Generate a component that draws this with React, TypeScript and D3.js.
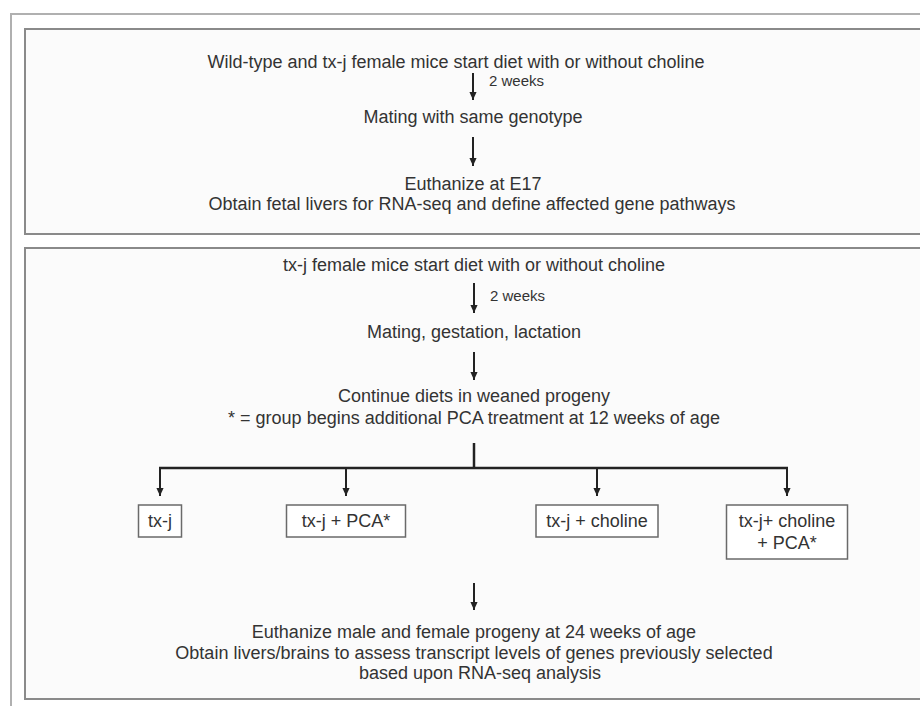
import { useEffect, useRef } from "react";
import * as d3 from "d3";

// 상단 패널 텍스트
const topSteps = [
  "Wild-type and tx-j female mice start diet with or without choline",
  "Mating with same genotype",
  "Euthanize at E17",
  "Obtain fetal livers for RNA-seq and define affected gene pathways",
];
// 하단 패널 텍스트
const bottomSteps = [
  "tx-j female mice start diet with or without choline",
  "Mating, gestation, lactation",
  "Continue diets in weaned progeny",
  "* = group begins additional PCA treatment at 12 weeks of age",
];
const groupLabels = [["tx-j"], ["tx-j + PCA*"], ["tx-j + choline"], ["tx-j+ choline", "+ PCA*"]];
const finalSteps = [
  "Euthanize male and female progeny at 24 weeks of age",
  "Obtain livers/brains to assess transcript levels of genes previously selected",
  "based upon RNA-seq analysis",
];
const intervalLabel = "2 weeks";

const W = 920;
const H = 706;
const FONT = "'Liberation Sans', Arial, sans-serif";

export default function App() {
  const svgRef = useRef<SVGSVGElement | null>(null);

  useEffect(() => {
    const svg = d3.select(svgRef.current);
    svg.selectAll("*").remove();

    const cx = 474; // 흐름 중심선

    // 화살촉 마커
    svg.append("defs")
      .append("marker")
      .attr("id", "head")
      .attr("viewBox", "0 0 8 9")
      .attr("refX", 9)
      .attr("refY", 4)
      .attr("markerWidth", 9)
      .attr("markerHeight", 8)
      .attr("markerUnits", "userSpaceOnUse")
      .attr("orient", "auto")
      .append("path")
      .attr("d", "M0,0 L9,4 L0,8 Z")
      .attr("fill", "#222");

    // 바깥 프레임
    svg.append("path")
      .attr("d", `M11,${H} L11,14 L${W},14`)
      .attr("fill", "none")
      .attr("stroke", "#b0b0b0")
      .attr("stroke-width", 2);

    // 패널 박스
    const panel = (y0: number, y1: number) =>
      svg.append("rect")
        .attr("x", 25)
        .attr("y", y0)
        .attr("width", W)
        .attr("height", y1 - y0)
        .attr("fill", "#fbfbfb")
        .attr("stroke", "#8a8a8a")
        .attr("stroke-width", 2);
    panel(29, 234);
    panel(248, 699);

    const text = (t: string, x: number, y: number, size = 18, anchor = "middle") =>
      svg.append("text")
        .attr("x", x)
        .attr("y", y)
        .attr("text-anchor", anchor)
        .attr("dominant-baseline", "central")
        .style("font-family", FONT)
        .style("font-size", `${size}px`)
        .attr("fill", "#333")
        .text(t);

    const arrow = (x: number, y0: number, y1: number, w = 2) =>
      svg.append("line")
        .attr("x1", x)
        .attr("x2", x)
        .attr("y1", y0)
        .attr("y2", y1)
        .attr("stroke", "#222")
        .attr("stroke-width", w)
        .attr("marker-end", "url(#head)");

    // 상단 흐름
    text(topSteps[0], 456, 62);
    arrow(473, 73, 100);
    text(intervalLabel, 489, 80, 15, "start");
    text(topSteps[1], cx - 1, 117);
    arrow(473, 137, 166);
    text(topSteps[2], cx - 1, 184);
    text(topSteps[3], cx - 2, 204);

    // 하단 흐름
    text(bottomSteps[0], cx, 265);
    arrow(cx, 283, 313);
    text(intervalLabel, 490, 295, 15, "start");
    text(bottomSteps[1], cx, 332);
    arrow(cx, 352, 380);
    text(bottomSteps[2], cx, 396);
    text(bottomSteps[3], cx, 418);

    // 분기
    const branchX = [160, 346, 597, 787];
    const branchY = 468;
    svg.append("line")
      .attr("x1", cx).attr("x2", cx)
      .attr("y1", 443).attr("y2", branchY)
      .attr("stroke", "#222").attr("stroke-width", 2.5);
    svg.append("line")
      .attr("x1", d3.min(branchX)! - 1).attr("x2", d3.max(branchX)! + 1)
      .attr("y1", branchY).attr("y2", branchY)
      .attr("stroke", "#222").attr("stroke-width", 2.5);
    branchX.forEach((x) => arrow(x, branchY, 496));

    // 그룹 박스
    const boxW = [43, 119, 122, 121];
    groupLabels.forEach((lines, i) => {
      const h = lines.length === 1 ? 32 : 54;
      svg.append("rect")
        .attr("x", branchX[i] - boxW[i] / 2)
        .attr("y", 505)
        .attr("width", boxW[i])
        .attr("height", h)
        .attr("fill", "#fff")
        .attr("stroke", "#6a6a6a")
        .attr("stroke-width", 1.5);
      lines.forEach((l, j) => text(l, branchX[i], 521 + j * 22));
    });

    arrow(cx, 583, 610);
    finalSteps.forEach((l, i) => text(l, i === 2 ? 480 : cx, 632 + i * 20.5));
  }, []);

  return (
    <svg
      ref={svgRef}
      width={W}
      height={H}
      style={{ position: "absolute", left: 0, top: 0, background: "#fff" }}
    />
  );
}
